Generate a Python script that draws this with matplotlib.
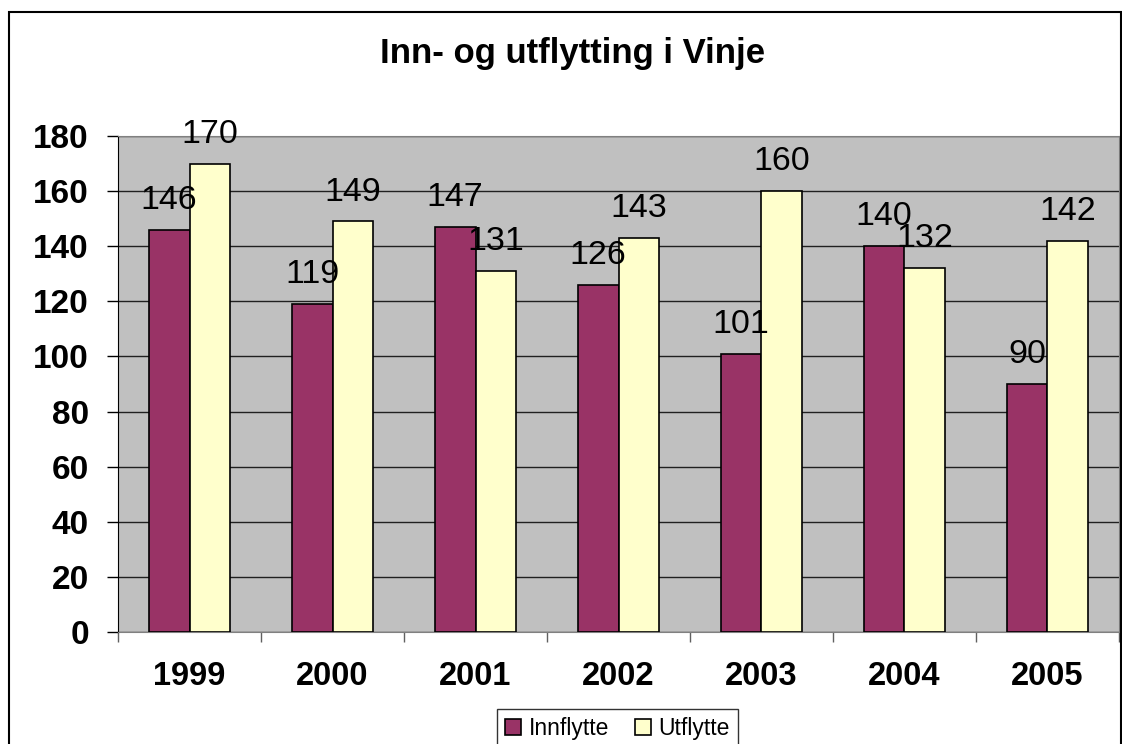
import matplotlib.pyplot as plt
import numpy as np
from matplotlib.patches import Rectangle

plt.rcParams['font.family'] = ['Liberation Sans', 'DejaVu Sans']

years = ['1999', '2000', '2001', '2002', '2003', '2004', '2005']
innflytte = [146, 119, 147, 126, 101, 140, 90]
utflytte = [170, 149, 131, 143, 160, 132, 142]

fig = plt.figure(figsize=(11.22, 7.44), dpi=100)
ax = fig.add_axes([0.1052, 0.1505, 0.8921, 0.6667])
ax.set_facecolor('#C0C0C0')

x = np.arange(len(years))
w = 1 / 3.5
b1 = ax.bar(x - w / 2, innflytte, w, color='#993366', edgecolor='black', linewidth=1.2,
            label='Innflytte', zorder=3)
b2 = ax.bar(x + w / 2, utflytte, w, color='#FFFFCC', edgecolor='black', linewidth=1.2,
            label='Utflytte', zorder=3)
ax.bar_label(b1, padding=10, fontsize=24.5, zorder=4)
ax.bar_label(b2, padding=10, fontsize=24.5, zorder=4)

ax.set_xlim(-0.5, len(years) - 0.5)
ax.set_ylim(0, 180)
ax.set_yticks(range(0, 181, 20))
ax.yaxis.grid(True, color='#202020', linewidth=1, zorder=1)
ax.set_axisbelow(True)
ax.tick_params(axis='y', length=8, width=1, color='black', pad=13, labelsize=24)
for lbl in ax.get_yticklabels():
    lbl.set_fontweight('bold')

ax.set_xticks(x)
ax.set_xticklabels(years, fontsize=23.5, fontweight='bold')
ax.set_xticks(np.arange(-0.5, len(years)), minor=True)
ax.tick_params(axis='x', which='major', length=0, pad=21)
ax.tick_params(axis='x', which='minor', length=7, width=1, color='#606060')

for s in ['top', 'right']:
    ax.spines[s].set_color('#808080')
ax.spines['bottom'].set_color('#808080')
ax.spines['left'].set_color('black')

fig.text(0.5103, 0.9153, 'Inn- og utflytting i Vinje', ha='center', va='baseline',
         fontsize=25, fontweight='bold')

fig.legend(loc='upper center', bbox_to_anchor=(0.5504, 0.047), ncol=2, fontsize=16.5,
           frameon=True, fancybox=False, edgecolor='black', handlelength=0.7,
           handleheight=0.7, handletextpad=0.35, columnspacing=1.1, borderpad=0.35,
           borderaxespad=0)

fig.patches.append(Rectangle((9 / 1122, -0.1), 1112 / 1122, 1.1 - 12 / 744,
                             transform=fig.transFigure, fill=False,
                             edgecolor='black', linewidth=1.5))

fig.savefig('out.png', dpi=100)
